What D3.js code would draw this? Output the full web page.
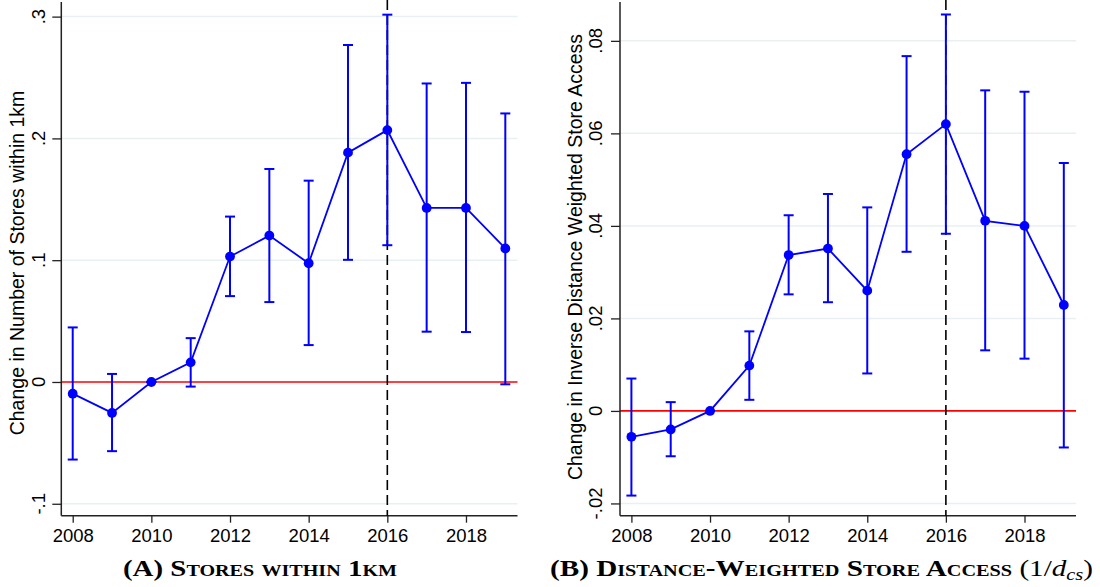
<!DOCTYPE html>
<html lang="en">
<head>
  <meta charset="UTF-8" />
  <title>Event study: store access</title>
  <script src="https://d3js.org/d3.v7.min.js"></script>
  <style>
    body { margin: 0; background: #fff; }
    svg { display: block; font-family: "Liberation Sans", Arial, sans-serif; }
    .tick-label { font-size: 18.5px; fill: #000; }
    .axis-title { font-size: 19.5px; fill: #000; }
    .caption { font-family: "Liberation Serif", "DejaVu Serif", serif; font-size: 23px; font-weight: bold; font-variant: small-caps; fill: #000; }
  </style>
</head>
<body>
<svg width="1100" height="587"></svg>

<script>
  // years on the x axis
  const years = [2008, 2009, 2010, 2011, 2012, 2013, 2014, 2015, 2016, 2017, 2018, 2019];
  const xTicks = [2008, 2010, 2012, 2014, 2016, 2018];
  const eventYear = 2016;

  // panel A : stores within 1km
  const storesCoef = [-0.0096, -0.0254, 0, 0.0161, 0.1030, 0.1202, 0.0975, 0.1883, 0.2068, 0.1429, 0.1429, 0.1096];
  const storesLo   = [-0.0637, -0.0568, 0, -0.0038, 0.0705, 0.0656, 0.0303, 0.1003, 0.1123, 0.0413, 0.0410, -0.0019];
  const storesHi   = [0.0448, 0.0066, 0, 0.0360, 0.1358, 0.1749, 0.1653, 0.2767, 0.3016, 0.2451, 0.2456, 0.2205];
  const storesTicks = [-0.1, 0, 0.1, 0.2, 0.3];
  const storesTickLabels = ["-.1", "0", ".1", ".2", ".3"];

  // panel B : distance-weighted store access
  const accessCoef = [-0.0056, -0.0040, 0, 0.0098, 0.0337, 0.0351, 0.0260, 0.0555, 0.0620, 0.0411, 0.0400, 0.0229];
  const accessLo   = [-0.0183, -0.0098, 0, 0.0024, 0.0252, 0.0235, 0.0081, 0.0344, 0.0383, 0.0131, 0.0113, -0.0079];
  const accessHi   = [0.0070, 0.0019, 0, 0.0172, 0.0423, 0.0469, 0.0440, 0.0767, 0.0857, 0.0693, 0.0690, 0.0536];
  const accessTicks = [-0.02, 0, 0.02, 0.04, 0.06, 0.08];
  const accessTickLabels = ["-.02", "0", ".02", ".04", ".06", ".08"];

  const svg = d3.select("svg");
  const blue = "#0000ff";

  function drawPanel(p) {
    const x = d3.scaleLinear().domain([2007.71, 2019.31]).range([p.left, p.right]);
    const y = d3.scaleLinear().domain(p.yDomain).range([515.7, 2]);
    const g = svg.append("g");

    // grid lines
    g.selectAll(".grid").data(p.ticks.filter(t => t !== 0)).enter().append("line")
      .attr("x1", p.left).attr("x2", p.right)
      .attr("y1", d => y(d)).attr("y2", d => y(d))
      .attr("stroke", "#e8f0f2").attr("stroke-width", 1.5);

    // zero line
    g.append("line")
      .attr("x1", p.left).attr("x2", p.right)
      .attr("y1", y(0)).attr("y2", y(0))
      .attr("stroke", "#ff0000").attr("stroke-width", 1.6);

    // y axis
    const yAxis = g.append("g")
      .attr("transform", `translate(${p.left},0)`)
      .call(d3.axisLeft(y).tickValues(p.ticks).tickSize(9).tickFormat(""));
    yAxis.select(".domain").attr("d", `M0,${y.range()[1]}V${y.range()[0]}`).attr("stroke", "#222").attr("stroke-width", 1.5);
    yAxis.selectAll(".tick line").attr("stroke", "#222").attr("stroke-width", 1.3);

    // y tick labels, rotated like Stata
    g.selectAll(".ylab").data(p.ticks).enter().append("text")
      .attr("class", "tick-label")
      .attr("transform", (d) => `translate(${p.left - p.labelGap},${y(d)}) rotate(-90)`)
      .attr("text-anchor", "middle")
      .text((d, i) => p.tickLabels[i]);

    // x axis
    const xAxis = g.append("g")
      .attr("transform", `translate(0,${y.range()[0]})`)
      .call(d3.axisBottom(x).tickValues(xTicks).tickSize(7).tickFormat(d3.format("d")));
    xAxis.select(".domain").attr("d", `M${p.left},0H${p.right}`).attr("stroke", "#222").attr("stroke-width", 1.5);
    xAxis.selectAll(".tick line").attr("stroke", "#222").attr("stroke-width", 1.3);
    xAxis.selectAll(".tick text").attr("class", "tick-label").attr("font-size", null).attr("font-family", null)
      .attr("y", 26.5).attr("dy", 0);

    // event line
    g.append("line")
      .attr("x1", x(eventYear)).attr("x2", x(eventYear))
      .attr("y1", 0).attr("y2", y.range()[0])
      .attr("stroke", "#000").attr("stroke-width", 1.6)
      .attr("stroke-dasharray", "10,5");

    // axis title
    g.append("text")
      .attr("class", "axis-title")
      .attr("transform", `translate(${p.titleX},${p.titleY}) rotate(-90)`)
      .attr("text-anchor", "middle")
      .text(p.yTitle);

    const rows = years.map((yr, i) => ({ yr, c: p.coef[i], lo: p.lo[i], hi: p.hi[i] }));

    // confidence intervals
    const ci = g.selectAll(".ci").data(rows).enter().append("g");
    ci.append("line")
      .attr("x1", d => x(d.yr)).attr("x2", d => x(d.yr))
      .attr("y1", d => y(d.lo)).attr("y2", d => y(d.hi))
      .attr("stroke", blue).attr("stroke-width", 2);
    ci.append("line")
      .attr("x1", d => x(d.yr) - 5).attr("x2", d => x(d.yr) + 5)
      .attr("y1", d => y(d.lo)).attr("y2", d => y(d.lo))
      .attr("stroke", blue).attr("stroke-width", 2);
    ci.append("line")
      .attr("x1", d => x(d.yr) - 5).attr("x2", d => x(d.yr) + 5)
      .attr("y1", d => y(d.hi)).attr("y2", d => y(d.hi))
      .attr("stroke", blue).attr("stroke-width", 2);

    // connected estimates
    g.append("path")
      .datum(rows)
      .attr("fill", "none").attr("stroke", blue).attr("stroke-width", 1.8)
      .attr("d", d3.line().x(d => x(d.yr)).y(d => y(d.c)));

    g.selectAll(".pt").data(rows).enter().append("circle")
      .attr("cx", d => x(d.yr)).attr("cy", d => y(d.c))
      .attr("r", 4.9).attr("fill", blue);

    // caption
    const cap = svg.append("text")
      .attr("class", "caption")
      .attr("x", p.capX).attr("y", 576)
      .attr("text-anchor", "middle")
      .attr("textLength", p.capLength)
      .attr("lengthAdjust", "spacingAndGlyphs");
    p.caption(cap);
  }

  drawPanel({
    left: 61.3, right: 517.5,
    yDomain: [-0.1098, 0.312],
    ticks: storesTicks, tickLabels: storesTickLabels, labelGap: 16.5,
    coef: storesCoef, lo: storesLo, hi: storesHi,
    titleX: 24, titleY: 263,
    yTitle: "Change in Number of Stores within 1km",
    capX: 260, capLength: 274,
    caption: t => t.text("(A) Stores within 1km")
  });

  drawPanel({
    left: 620, right: 1076,
    yDomain: [-0.02265, 0.0884],
    ticks: accessTicks, tickLabels: accessTickLabels, labelGap: 18,
    coef: accessCoef, lo: accessLo, hi: accessHi,
    titleX: 582, titleY: 257,
    yTitle: "Change in Inverse Distance Weighted Store Access",
    capX: 821.5, capLength: 543,
    caption: t => {
      t.append("tspan").text("(B) Distance-Weighted Store Access ");
      t.append("tspan").attr("font-weight", "normal").attr("font-variant", "normal").text("(1/");
      t.append("tspan").attr("font-weight", "normal").attr("font-variant", "normal").attr("font-style", "italic").text("d");
      t.append("tspan").attr("font-weight", "normal").attr("font-variant", "normal").attr("font-style", "italic")
        .attr("font-size", "16px").attr("dy", 4).text("cs");
      t.append("tspan").attr("font-weight", "normal").attr("font-variant", "normal").attr("dy", -4).text(")");
    }
  });
</script>

</body>
</html>
